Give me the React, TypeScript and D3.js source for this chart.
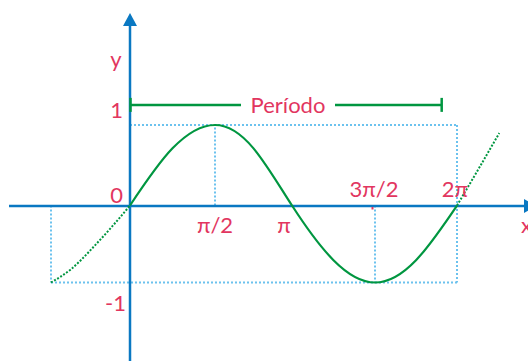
import React from "react";
import * as d3 from "d3";

const PI = Math.PI;

// main curve samples (radians, value)
const curveX = [0, PI / 4, PI / 2, (3 * PI) / 4, PI, (5 * PI) / 4, (3 * PI) / 2, (7 * PI) / 4, 2 * PI];
const curveY = [0, 0.71, 1, 0.71, 0, -0.71, -1, -0.71, 0];

// dotted extensions
const leftExtX = [-PI / 2, (-3 * PI) / 8, -PI / 4, -PI / 8, 0];
const leftExtY = [-1, -0.83, -0.58, -0.3, 0];
const rightExtX = [2 * PI, 2 * PI + 0.4, 2 * PI + 0.81];
const rightExtY = [0, 0.44, 0.9];

// tick labels
const xTickValues = [PI / 2, PI, (3 * PI) / 2, 2 * PI];
const xTickLabels = ["π/2", "π", "3π/2", "2π"];
const yTickValues = [1, 0, -1];
const yTickLabels = ["1", "0", "-1"];

const periodStart = 0;
const periodEnd = 5.99;
const periodLevel = 1.25;
const periodLabel = "Período";

const W = 528;
const H = 361;

const BLUE = "#0a78c2";
const LIGHT = "#6cc2ee";
const GREEN = "#009640";
const PINK = "#e2365f";
const FONT = "Lato, 'Open Sans', sans-serif";

export default function App() {
  const x = d3
    .scaleLinear()
    .domain([-PI / 2, 0, PI / 2, PI, (3 * PI) / 2, 2 * PI])
    .range([51, 130, 215, 292, 375, 457]);
  const y = d3.scaleLinear().domain([-1, 0, 1]).range([282.5, 205.5, 125]);

  const line = d3
    .line<[number, number]>()
    .x((d) => x(d[0]))
    .y((d) => y(d[1]))
    .curve(d3.curveNatural);

  const mainPts = curveX.map((v, i) => [v, curveY[i]] as [number, number]);
  const leftPts = leftExtX.map((v, i) => [v, leftExtY[i]] as [number, number]);
  const rightPts = rightExtX.map((v, i) => [v, rightExtY[i]] as [number, number]);

  const x0 = x(0);
  const y0 = 206;

  // dotted guide segments
  const guides: [number, number, number, number][] = [
    [0, 1, 2 * PI, 1],
    [2 * PI, 1, 2 * PI, -1],
    [-PI / 2, -1, 2 * PI, -1],
    [-PI / 2, 0, -PI / 2, -1],
    [PI / 2, 0, PI / 2, 1],
    [(3 * PI) / 2, 0, (3 * PI) / 2, -1],
  ];

  const labelPos = [
    { dx: 0, y: 233 },
    { dx: -8, y: 233 },
    { dx: -1, y: 196.5 },
    { dx: -2, y: 196.5 },
  ];

  const pyY = y(periodLevel);
  const px0 = x(periodStart);
  const px1 = x(periodEnd);
  const pMid = 288;

  return (
    <svg
      width={W}
      height={H}
      style={{ position: "absolute", left: 0, top: 0, background: "#fff" }}
    >
      {/* dotted guides */}
      {guides.map((g, i) => (
        <line
          key={"g" + i}
          x1={x(g[0])}
          y1={y(g[1])}
          x2={x(g[2])}
          y2={y(g[3])}
          stroke={LIGHT}
          strokeWidth={2}
          strokeDasharray="2 2"
        />
      ))}

      {/* axes */}
      <line x1={9} y1={y0} x2={524} y2={y0} stroke={BLUE} strokeWidth={2.5} />
      <path d={`M${536},${y0} L${524},${y0 - 7} L${524},${y0 + 7} Z`} fill={BLUE} />
      <line x1={x0} y1={H} x2={x0} y2={24} stroke={BLUE} strokeWidth={2.5} />
      <path d={`M${x0},${13} L${x0 - 7},${26} L${x0 + 7},${26} Z`} fill={BLUE} />

      {/* small pink tick at 3π/2 */}
      <rect x={x((3 * PI) / 2) - 3.5} y={y0 + 1} width={2} height={2.5} fill={PINK} />

      {/* curve */}
      <path d={line(leftPts) || ""} fill="none" stroke={GREEN} strokeWidth={2} strokeDasharray="2 1.6" />
      <path d={line(rightPts) || ""} fill="none" stroke={GREEN} strokeWidth={2} strokeDasharray="2 1.6" />
      <path d={line(mainPts) || ""} fill="none" stroke={GREEN} strokeWidth={2.2} />

      {/* period bracket */}
      <line x1={px0} y1={pyY} x2={241} y2={pyY} stroke={GREEN} strokeWidth={2.5} />
      <line x1={335} y1={pyY} x2={px1} y2={pyY} stroke={GREEN} strokeWidth={2.5} />
      <line x1={px0 + 0.5} y1={pyY - 7} x2={px0 + 0.5} y2={pyY + 7} stroke={GREEN} strokeWidth={2.5} />
      <line x1={px1} y1={pyY - 7} x2={px1} y2={pyY + 7} stroke={GREEN} strokeWidth={2.5} />
      <text x={pMid} y={113.3} textAnchor="middle" fill={PINK} fontFamily={FONT} fontSize={22}>
        {periodLabel}
      </text>

      {/* x tick labels */}
      {xTickValues.map((v, i) => (
        <text
          key={"xt" + i}
          x={x(v) + labelPos[i].dx}
          y={labelPos[i].y}
          textAnchor="middle"
          fill={PINK}
          fontFamily={FONT}
          fontSize={22}
        >
          {xTickLabels[i]}
        </text>
      ))}

      {/* y tick labels */}
      {yTickValues.map((v, i) => (
        <text
          key={"yt" + i}
          x={v === -1 ? 126 : 123}
          y={v === 1 ? 118 : v === 0 ? 202.7 : 311}
          textAnchor="end"
          fill={PINK}
          fontFamily={FONT}
          fontSize={22}
        >
          {yTickLabels[i]}
        </text>
      ))}

      {/* axis names */}
      <text x={116} y={67} textAnchor="middle" fill={PINK} fontFamily={FONT} fontSize={22}>
        y
      </text>
      <text x={521} y={233} fill={PINK} fontFamily={FONT} fontSize={22}>
        x
      </text>
    </svg>
  );
}
